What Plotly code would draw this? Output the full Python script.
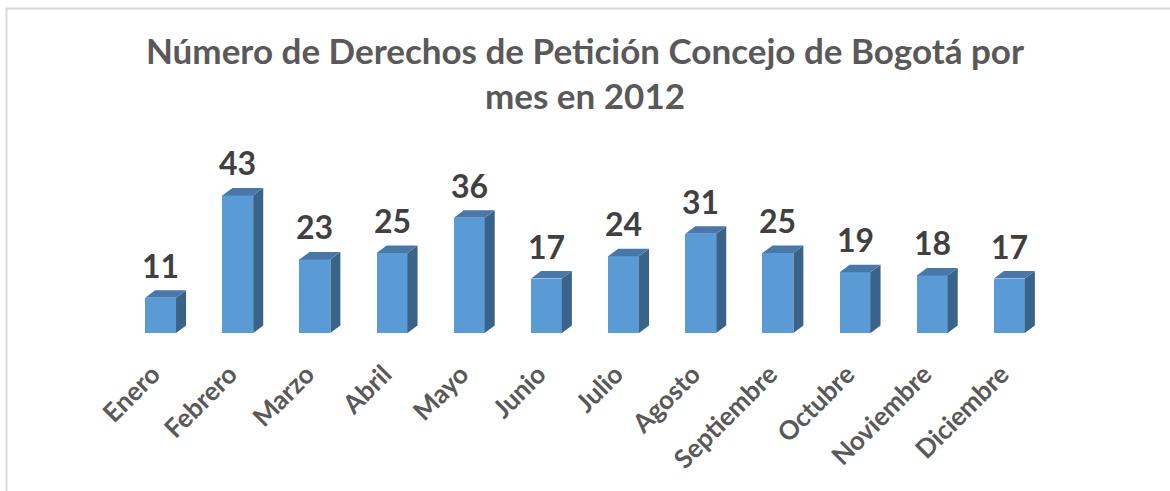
import plotly.graph_objects as go

months = ["Enero", "Febrero", "Marzo", "Abril", "Mayo", "Junio", "Julio",
          "Agosto", "Septiembre", "Octubre", "Noviembre", "Diciembre"]
values = [11, 43, 23, 25, 36, 17, 24, 31, 25, 19, 18, 17]
title_text = "Número de Derechos de Petición Concejo de Bogotá por<br>mes en 2012"

FRONT = "#5B9BD5"
TOP = "#4878AA"
SIDE = "#3A6389"
TXT = "#595959"
LBL = "#404040"
FONT = "Lato"

W, H = 1170, 491
ML, MR, MT, MB = 122, 122, 173, 158
YMAX = 50
BW = 0.40          # front face width (category units)
DX = 0.13          # depth offset x (category units)
DY = 2.35          # depth offset y (value units)

xs = list(range(len(months)))

fig = go.Figure()

# side faces and top faces built from the data values
for i, v in zip(xs, values):
    r = i + BW / 2
    l = i - BW / 2
    fig.add_trace(go.Scatter(
        x=[r, r, r + DX, r + DX, r], y=[0, v, v + DY, DY, 0],
        mode="lines", fill="toself", fillcolor=SIDE,
        line=dict(width=0), hoverinfo="skip", showlegend=False))
    fig.add_trace(go.Scatter(
        x=[l, r, r + DX, l + DX, l], y=[v, v, v + DY, v + DY, v],
        mode="lines", fill="toself", fillcolor=TOP,
        line=dict(width=0), hoverinfo="skip", showlegend=False))

fig.add_trace(go.Bar(x=xs, y=values, width=BW, marker=dict(color=FRONT, line=dict(width=0)),
                     showlegend=False, cliponaxis=False))

for i, v in zip(xs, values):
    fig.add_annotation(x=i, y=v, text=str(v), showarrow=False, yanchor="bottom",
                       yshift=11, font=dict(family=FONT, size=32, color=LBL, weight="bold"))

pw = W - ML - MR
ph = H - MT - MB
fig.add_shape(type="rect", xref="paper", yref="paper",
              x0=(6.5 - ML) / pw, x1=(W + 20 - ML) / pw,
              y0=-(H + 20 - MT - ph) / ph, y1=(MT - 8.5) / ph + 1,
              line=dict(color="#D9D9D9", width=2), fillcolor="rgba(0,0,0,0)", layer="below")

fig.update_layout(
    width=W, height=H,
    margin=dict(l=ML, r=MR, t=MT, b=MB, autoexpand=False),
    paper_bgcolor="white", plot_bgcolor="white",
    title=dict(text=title_text, x=0.5, xref="paper", xanchor="center",
               yref="container", y=0.870, yanchor="top",
               font=dict(family=FONT, size=35, color=TXT, weight="bold")),
    xaxis=dict(range=[-0.5, 11.5], tickmode="array", tickvals=xs, ticktext=months,
               tickangle=-45, showgrid=False, zeroline=False, showline=False, ticks="",
               automargin=False, ticklabelstandoff=20, ticklabelshift=-8,
               tickfont=dict(family=FONT, size=26, color=TXT, weight="bold")),
    yaxis=dict(range=[0, YMAX], visible=False, showgrid=False, zeroline=False, automargin=False),
    bargap=0,
)

fig.write_html("out.html", config={"displayModeBar": False},
               post_script="document.body.style.margin='0';document.body.style.padding='0';")
